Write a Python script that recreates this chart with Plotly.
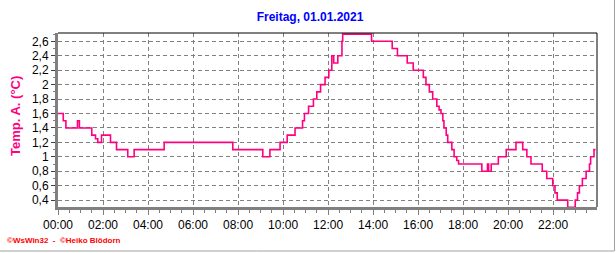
import plotly.graph_objects as go

# ---- data ----
times = ["00:00","00:14","00:21","00:52","00:57","01:30","01:40","01:46","01:56","02:20",
         "02:36","03:06","03:23","04:43","07:46","09:06","09:25","09:52","10:11","10:32",
         "10:52","10:57","11:08","11:21","11:30","11:40","11:52","12:02","12:10","12:15",
         "12:26","12:37","12:39","13:56","14:51","15:05","15:31","15:47","16:14","16:21",
         "16:30","16:39","16:50","16:56","17:01","17:06","17:09","17:15","17:19","17:30",
         "17:36","17:43","17:48","18:50","19:05","19:08","19:15","19:34","19:55","20:21",
         "20:39","20:50","21:01","21:31","21:43","21:59","22:05","22:11","22:39","22:59",
         "23:05","23:10","23:18","23:28","23:37","23:40","23:49","23:53"]
temps = [1.6,1.5,1.4,1.5,1.4,1.3,1.25,1.2,1.3,1.2,
         1.1,1.0,1.1,1.2,1.1,1.0,1.1,1.2,1.3,1.4,
         1.5,1.6,1.7,1.8,1.9,2.0,2.1,2.2,2.4,2.3,
         2.4,2.6,2.7,2.6,2.5,2.4,2.3,2.2,2.1,2.0,
         1.9,1.8,1.7,1.65,1.6,1.5,1.4,1.3,1.2,1.1,
         1.0,0.95,0.9,0.8,0.9,0.8,0.9,1.0,1.1,1.2,
         1.1,1.0,0.9,0.8,0.7,0.6,0.5,0.4,0.3,0.4,
         0.5,0.6,0.7,0.8,0.9,1.0,1.1,1.1]
date = "2021-01-01"
y_tickvals = [0.4,0.6,0.8,1.0,1.2,1.4,1.6,1.8,2.0,2.2,2.4,2.6]
y_ticktext = ["0,4","0,6","0,8","1","1,2","1,4","1,6","1,8","2","2,2","2,4","2,6"]
x_ticktimes = ["00:00","02:00","04:00","06:00","08:00","10:00","12:00","14:00","16:00","18:00","20:00","22:00"]
title_text = "Freitag, 01.01.2021"
ytitle_text = "Temp. A. (°C)"
credit_text = "©WsWin32  -  ©Heiko Blödorn"

W, H = 616, 253
L, R, T, B = 58, 19, 33, 46
pw, ph = W - L - R, H - T - B

xs = [f"{date} {t}" for t in times]
x_tickvals = [f"{date} {t}" for t in x_ticktimes]

fig = go.Figure()
fig.add_trace(go.Scatter(x=xs, y=temps, mode="lines", line_shape="hv",
                         line=dict(color="#FF0080", width=1.6), hoverinfo="skip"))

font = "Liberation Sans, Arial, sans-serif"
fig.update_layout(
    width=W, height=H, margin=dict(l=L, r=R, t=T, b=B),
    paper_bgcolor="white", plot_bgcolor="white", showlegend=False,
    font=dict(family=font, size=12, color="black"),
    title=dict(text=f"<b>{title_text}</b>", x=310 / W, xanchor="center",
               y=1 - 17 / H, yanchor="middle", xref="container", yref="container",
               font=dict(family=font, size=12, color="#0000FF")),
)
fig.update_xaxes(
    type="date", range=[f"{date} 00:00", f"{date} 23:57"],
    tickvals=x_tickvals, ticktext=x_ticktimes,
    showgrid=True, gridcolor="#808080", gridwidth=1, griddash="4px,3px",
    showline=True, linecolor="#808080", linewidth=3,
    ticks="outside", ticklen=5, tickcolor="#808080", tickwidth=1,
    minor=dict(dtick=30 * 60 * 1000, ticks="outside", ticklen=3, tickcolor="#808080", showgrid=False),
    tickfont=dict(size=12, color="black"), zeroline=False,
)
fig.update_yaxes(
    range=[0.305, 2.715], tickvals=y_tickvals, ticktext=y_ticktext,
    showgrid=True, gridcolor="#808080", gridwidth=1, griddash="4px,3px",
    showline=True, linecolor="#808080", linewidth=3,
    ticks="outside", ticklen=4, tickcolor="#404040", tickwidth=1,
    minor=dict(dtick=0.1, ticks="outside", ticklen=2, tickcolor="#808080", showgrid=False),
    tickfont=dict(size=12, color="black"), zeroline=False,
)
# top / right black borders
fig.add_shape(type="line", xref="paper", yref="paper", x0=0, x1=1, y0=1, y1=1,
              line=dict(color="black", width=1))
fig.add_shape(type="line", xref="paper", yref="paper", x0=1, x1=1, y0=0, y1=1,
              line=dict(color="black", width=1))
# outer frame lines (bottom and right of the picture)
fig.add_shape(type="line", xref="paper", yref="paper",
              x0=-L / pw, x1=(614 - L) / pw, y0=(T + ph - 251) / ph, y1=(T + ph - 251) / ph,
              line=dict(color="#A0A0A0", width=1))
fig.add_shape(type="line", xref="paper", yref="paper",
              x0=(614.5 - L) / pw, x1=(614.5 - L) / pw, y0=(T + ph - 251) / ph, y1=(T + ph) / ph,
              line=dict(color="#A0A0A0", width=1))

fig.add_annotation(text=f"<b>{ytitle_text}</b>", textangle=-90, xref="paper", yref="paper",
                   x=(15 - L) / pw, y=(T + ph - 116) / ph, showarrow=False,
                   xanchor="center", yanchor="middle",
                   font=dict(family=font, size=13, color="#FF0080"))
fig.add_annotation(text=f"<b>{credit_text}</b>", xref="paper", yref="paper",
                   x=(5 - L) / pw, y=(T + ph - 240) / ph, showarrow=False,
                   xanchor="left", yanchor="middle",
                   font=dict(family=font, size=8, color="#FF0000"))

fig.write_html("out.html")
